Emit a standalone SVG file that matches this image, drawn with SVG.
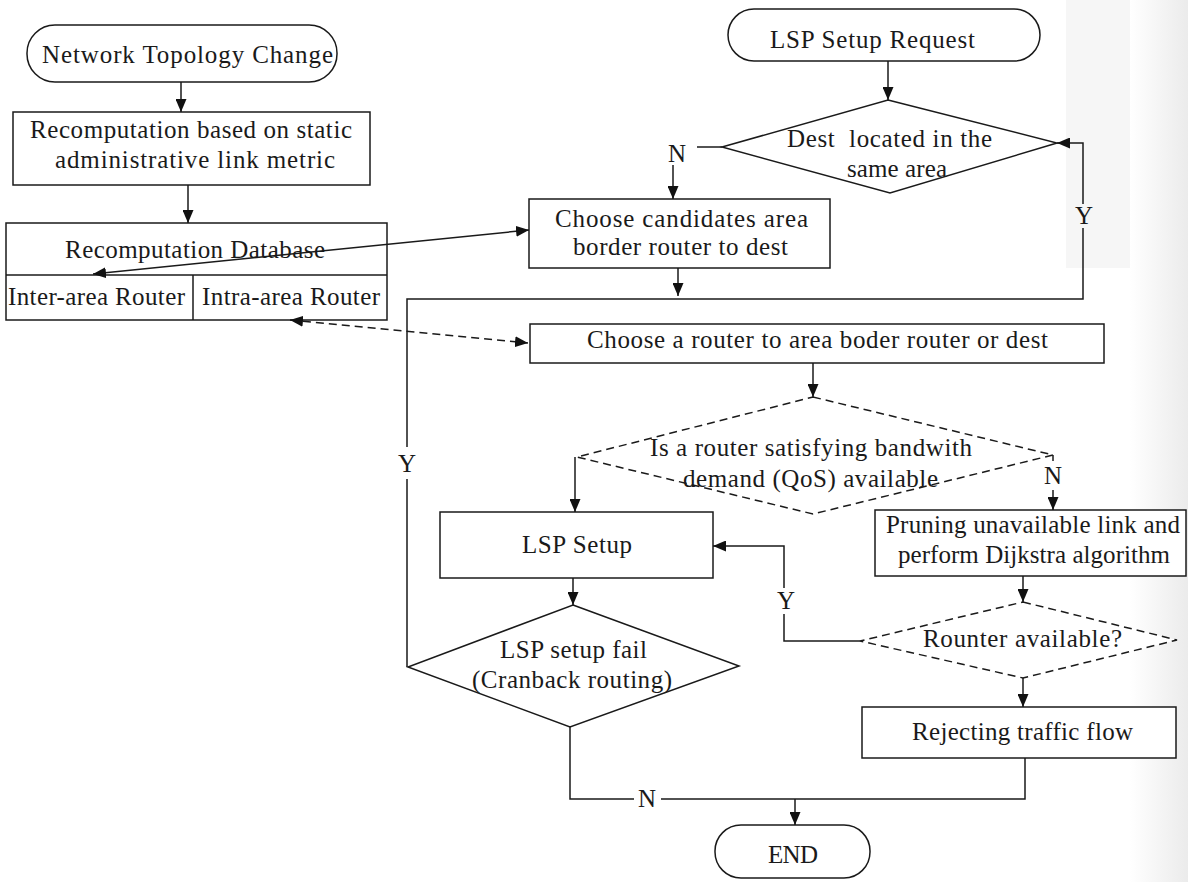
<svg xmlns="http://www.w3.org/2000/svg" width="1188" height="882" viewBox="0 0 1188 882">
<defs>
<marker id="ah" viewBox="0 0 13 11" refX="13" refY="5.5" markerWidth="13" markerHeight="11" markerUnits="userSpaceOnUse" orient="auto-start-reverse">
<path d="M0,0 L13,5.5 L0,11 Z" fill="#111"/>
</marker>
<linearGradient id="edge" x1="0" y1="0" x2="1" y2="0">
<stop offset="0" stop-color="#ffffff"/>
<stop offset="1" stop-color="#ebebeb"/>
</linearGradient>
<style>
.sh{fill:#fff;stroke:#1a1a1a;stroke-width:1.5}
.dsh{fill:#fff;stroke:#1a1a1a;stroke-width:1.5;stroke-dasharray:8 5}
.ln{fill:none;stroke:#1a1a1a;stroke-width:1.5}
.dln{fill:none;stroke:#1a1a1a;stroke-width:1.5;stroke-dasharray:8 5}
text{font-family:"Liberation Serif","Times New Roman",serif;font-size:25px;fill:#1a1a1a}
.c{text-anchor:middle}
</style>
</defs>
<rect width="1188" height="882" fill="#fff"/>
<rect x="1066" y="0" width="122" height="268" fill="#f6f6f6"/>
<rect x="1130" y="0" width="58" height="882" fill="url(#edge)"/>

<g id="n-topology">
<rect class="sh" x="27" y="25" width="310" height="57" rx="28"/>
<text x="42" y="63" textLength="291" lengthAdjust="spacing">Network Topology Change</text>
</g>
<g id="n-recomp">
<rect class="sh" x="13" y="112" width="357" height="73"/>
<text x="30" y="138" textLength="322" lengthAdjust="spacing">Recomputation based on static</text>
<text x="55" y="168" textLength="280" lengthAdjust="spacing">administrative link metric</text>
</g>
<g id="n-database">
<rect class="sh" x="6" y="223" width="381" height="97"/>
<line class="ln" x1="6" y1="275" x2="387" y2="275"/>
<line class="ln" x1="193" y1="275" x2="193" y2="320"/>
<text x="65" y="258" textLength="260" lengthAdjust="spacing">Recomputation Database</text>
<text x="8" y="305" textLength="177" lengthAdjust="spacing">Inter-area Router</text>
<text x="202" y="305" textLength="178" lengthAdjust="spacing">Intra-area Router</text>
</g>
<g id="n-request">
<rect class="sh" x="728" y="9" width="312" height="52" rx="26"/>
<text x="770" y="48" textLength="205" lengthAdjust="spacing">LSP Setup Request</text>
</g>
<g id="n-dest">
<polygon class="sh" points="888,100 1057,143 890,193 722,147"/>
<text x="787" y="147" xml:space="preserve" textLength="205" lengthAdjust="spacing">Dest  located in the</text>
<text x="847" y="177" textLength="100" lengthAdjust="spacing">same area</text>
</g>
<g id="n-candidates">
<rect class="sh" x="529" y="199" width="301" height="69"/>
<text x="555" y="227" textLength="253" lengthAdjust="spacing">Choose candidates area</text>
<text x="573" y="255" textLength="215" lengthAdjust="spacing">border router to dest</text>
</g>
<g id="n-choose-router">
<rect class="sh" x="530" y="324" width="574" height="39"/>
<text x="587" y="348" textLength="461" lengthAdjust="spacing">Choose a router to area boder router or dest</text>
</g>
<g id="n-bandwidth">
<polygon class="dsh" points="813,397 1053,455 813,514 577,457"/>
<text x="650" y="456" textLength="322" lengthAdjust="spacing">Is a router satisfying bandwith</text>
<text x="683" y="487" textLength="255" lengthAdjust="spacing">demand (QoS) available</text>
</g>
<g id="n-lsp-setup">
<rect class="sh" x="440" y="512" width="273" height="66"/>
<text x="522" y="553" textLength="110" lengthAdjust="spacing">LSP Setup</text>
</g>
<g id="n-pruning">
<rect class="sh" x="875" y="510" width="311" height="66"/>
<text x="886" y="533" textLength="294" lengthAdjust="spacing">Pruning unavailable link and</text>
<text x="898" y="563" textLength="272" lengthAdjust="spacing">perform Dijkstra algorithm</text>
</g>
<g id="n-fail">
<polygon class="sh" points="573,605 739,666 570,727 408,667"/>
<text x="500" y="658" textLength="147" lengthAdjust="spacing">LSP setup fail</text>
<text x="472" y="688" textLength="200" lengthAdjust="spacing">(Cranback routing)</text>
</g>
<g id="n-available">
<polygon class="dsh" points="1023,602 1177,640 1023,678 860,641"/>
<text x="923" y="647" textLength="199" lengthAdjust="spacing">Rounter available?</text>
</g>
<g id="n-reject">
<rect class="sh" x="862" y="707" width="314" height="51"/>
<text x="912" y="740" textLength="221" lengthAdjust="spacing">Rejecting traffic flow</text>
</g>
<g id="n-end">
<rect class="sh" x="715" y="825" width="155" height="53" rx="26"/>
<text x="768" y="863" textLength="50" lengthAdjust="spacing">END</text>
</g>

<g id="connectors">
<line class="ln" x1="181" y1="82" x2="181" y2="112" marker-end="url(#ah)"/>
<line class="ln" x1="188" y1="185" x2="188" y2="223" marker-end="url(#ah)"/>
<line class="ln" x1="93" y1="274" x2="529" y2="230" marker-start="url(#ah)" marker-end="url(#ah)"/>
<line class="dln" x1="290" y1="320" x2="528" y2="343" marker-start="url(#ah)" marker-end="url(#ah)"/>
<line class="ln" x1="888" y1="61" x2="888" y2="100" marker-end="url(#ah)"/>
<line class="ln" x1="722" y1="147" x2="697" y2="147"/>
<line class="ln" x1="673" y1="165" x2="673" y2="199" marker-end="url(#ah)"/>
<line class="ln" x1="678" y1="268" x2="678" y2="296" marker-end="url(#ah)"/>
<path class="ln" d="M407,667 V479 M407,447 V299 H1083 V228 M1083,204 V143 H1057" marker-end="url(#ah)"/>
<line class="ln" x1="813" y1="363" x2="813" y2="397" marker-end="url(#ah)"/>
<line class="ln" x1="575" y1="457" x2="575" y2="512" marker-end="url(#ah)"/>
<line class="ln" x1="1053" y1="455" x2="1053" y2="461"/>
<line class="ln" x1="1053" y1="490" x2="1053" y2="510" marker-end="url(#ah)"/>
<line class="ln" x1="573" y1="578" x2="573" y2="605" marker-end="url(#ah)"/>
<line class="ln" x1="1023" y1="576" x2="1023" y2="602" marker-end="url(#ah)"/>
<path class="ln" d="M860,641 H784 V614 M784,588 V546 H713" marker-end="url(#ah)"/>
<line class="ln" x1="1023" y1="678" x2="1023" y2="707" marker-end="url(#ah)"/>
<path class="ln" d="M570,727 V799 H634 M661,799 H1025 V758"/>
<line class="ln" x1="795" y1="799" x2="795" y2="825" marker-end="url(#ah)"/>
<text class="c" x="677" y="162">N</text>
<text class="c" x="1053" y="484">N</text>
<text class="c" x="647" y="807">N</text>
<text class="c" x="407" y="472">Y</text>
<text class="c" x="1084" y="224">Y</text>
<text class="c" x="786" y="609">Y</text>
</g>
</svg>
